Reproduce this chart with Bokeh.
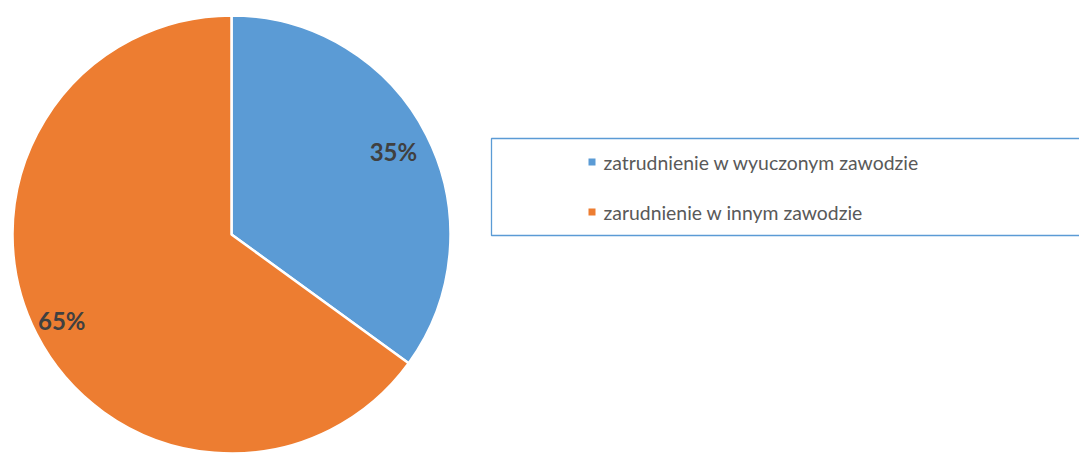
import math
from bokeh.plotting import figure
from bokeh.models import Range1d
from bokeh.core.properties import value
from bokeh.embed import file_html
from bokeh.resources import INLINE

categories = ["zatrudnienie w wyuczonym zawodzie", "zarudnienie w innym zawodzie"]
values = [35, 65]
colors = ["#5B9BD5", "#ED7D31"]

W, H = 1079, 453
p = figure(width=W, height=H, output_backend="svg", toolbar_location=None,
           x_range=Range1d(0, W), y_range=Range1d(0, H), min_border=0)
p.axis.visible = False
p.grid.visible = False
p.outline_line_color = None
p.background_fill_color = "white"
p.border_fill_color = "white"

cx, cy, r = 231, 219, 219
total = sum(values)
starts, ends, mids = [], [], []
a = math.pi / 2
for v in values:
    span = 2 * math.pi * v / total
    starts.append(a - span)
    ends.append(a)
    mids.append(a - span / 2)
    a -= span

p.wedge(x=cx, y=cy, radius=r, start_angle=starts, end_angle=ends,
        fill_color=colors, line_color="white", line_width=2.5)

label_k = [0.83, 0.87]
lx = [cx + r * k * math.cos(m) for k, m in zip(label_k, mids)]
ly = [cy + r * k * math.sin(m) for k, m in zip(label_k, mids)]
labels = [f"{v / total * 100:.0f}%" for v in values]
p.text(x=lx, y=ly, text=labels, text_align="center", text_baseline="middle",
       text_font=value("Lato"), text_font_style="bold", text_font_size="24px",
       text_color="#404040")

# legend box
p.quad(left=491, right=1200, bottom=218, top=315, fill_color="white",
       line_color="#5B9BD5", line_width=1.3)
leg_y = [291.5, 241.5]
p.rect(x=[591.5] * 2, y=leg_y, width=7, height=7, fill_color=colors, line_color=None)
p.text(x=[603] * 2, y=leg_y, text=categories, text_align="left", text_baseline="middle",
       text_font=value("Lato"), text_font_size="19.4px", text_color="#595959")

open("out.html", "w").write(file_html(p, INLINE))
